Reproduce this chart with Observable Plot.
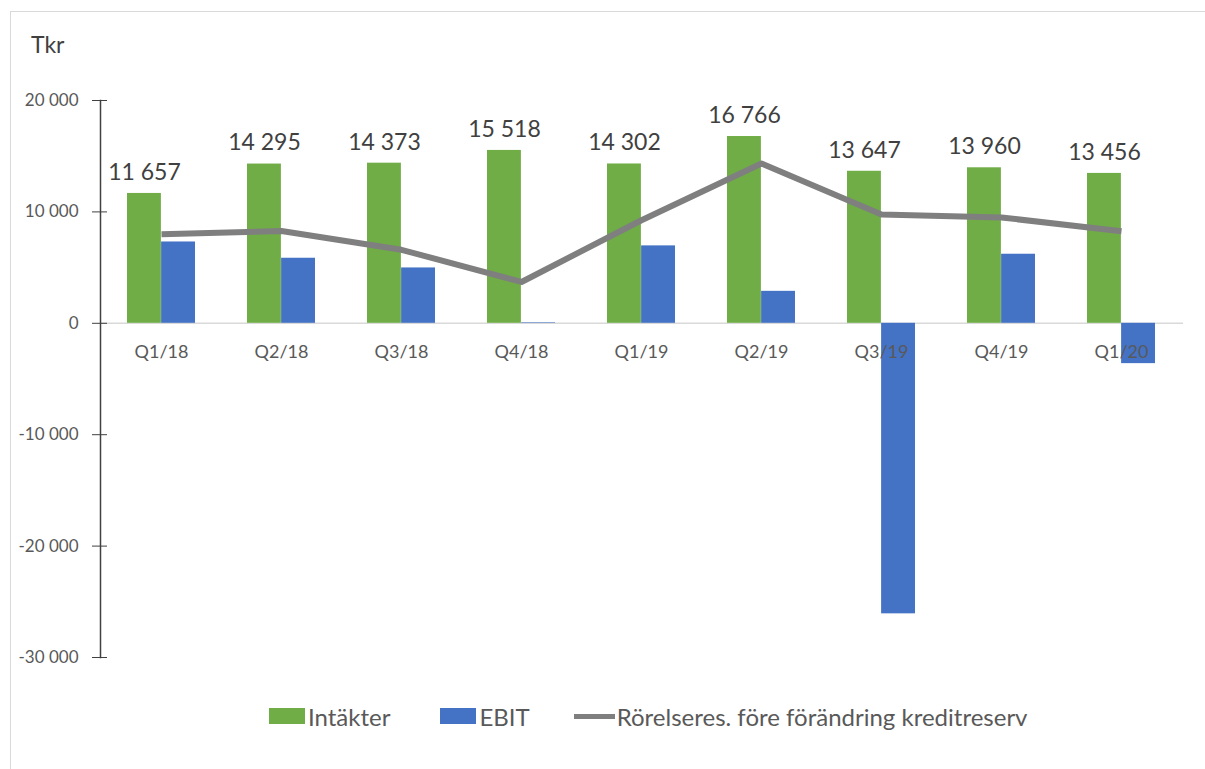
<!DOCTYPE html>
<html>
<head>
<meta charset="utf-8">
<script src="https://cdn.jsdelivr.net/npm/d3@7"></script>
<script src="https://cdn.jsdelivr.net/npm/@observablehq/plot@0.6"></script>
<style>
  html, body { margin: 0; padding: 0; background: #fff; }
  body { width: 1205px; height: 769px; overflow: hidden; position: relative; font-family: Lato, "Noto Sans", sans-serif; }
  #frame { position: absolute; left: 10px; top: 11px; width: 1210px; height: 780px; border: 1px solid #d9d9d9; box-sizing: border-box; }
  #chart { position: absolute; left: 0; top: 0; }
  #tkr { position: absolute; left: 31px; top: 30px; font-size: 23px; color: #404040; }
  #legend { position: absolute; left: 269px; top: 702px; height: 28px; display: flex; align-items: center; font-size: 24px; color: #595959; white-space: nowrap; }
  .sw { width: 36px; height: 16px; margin-right: 3px; }
  .ln { width: 41px; height: 5px; background: #7f7f7f; margin-right: 2px; }
  .item { display: flex; align-items: center; }
</style>
</head>
<body>
<div id="frame"></div>
<div id="chart"></div>
<div id="tkr">Tkr</div>
<div id="legend"></div>
<script>
const quarters = ["Q1/18", "Q2/18", "Q3/18", "Q4/18", "Q1/19", "Q2/19", "Q3/19", "Q4/19", "Q1/20"];
const intakter = [11657, 14295, 14373, 15518, 14302, 16766, 13647, 13960, 13456];
const ebit = [7300, 5840, 4970, 50, 6950, 2870, -26080, 6200, -3620];
const rorelseres = [8000, 8290, 6600, 3710, 9250, 14350, 9770, 9500, 8270];
const yTicks = [-30000, -20000, -10000, 0, 10000, 20000];
const seriesNames = ["Intäkter", "EBIT", "Rörelseres. före förändring kreditreserv"];
const colors = ["#70AD47", "#4472C4", "#7F7F7F"];

const rows = quarters.map((q, i) => ({q, intakter: intakter[i], ebit: ebit[i], ror: rorelseres[i]}));
const locale = d3.formatLocale({decimal: ",", thousands: " ", grouping: [3], currency: ["", " kr"], minus: "-"});
const fmt = locale.format(",d");

const half = 1083 / 9 * 0.567 / 2;
const font = "Lato, 'Noto Sans', sans-serif";

const svg = Plot.plot({
  width: 1205,
  height: 690,
  marginLeft: 100,
  marginRight: 22,
  marginTop: 100,
  marginBottom: 33,
  style: {fontFamily: font, background: "transparent", overflow: "visible"},
  x: {type: "band", domain: quarters, paddingInner: 0.433, paddingOuter: 0.2165, axis: null},
  y: {domain: [-30000, 20000], axis: null},
  marks: [
    Plot.ruleY([0], {stroke: "#d9d9d9", strokeWidth: 1.5}),
    Plot.barY(rows, {x: "q", y: "intakter", fill: colors[0], insetRight: half}),
    Plot.barY(rows, {x: "q", y: "ebit", fill: colors[1], insetLeft: half}),
    Plot.line(rows, {x: "q", y: "ror", stroke: colors[2], strokeWidth: 6, strokeLinecap: "butt", strokeLinejoin: "round"}),
    Plot.text(rows, {x: "q", y: "intakter", text: d => fmt(d.intakter), dx: -half / 2, dy: -21, fontSize: 23, fill: "#404040", lineAnchor: "middle"}),
    Plot.text(quarters, {x: d => d, y: () => 0, dy: 29, fontSize: 18, fill: "#595959", lineAnchor: "middle"}),
    Plot.axisY({ticks: yTicks, tickSize: 15, dx: 7, tickFormat: () => "", stroke: "#404040"}),
    Plot.axisY({ticks: yTicks, tickSize: 0, tickPadding: 22, tickFormat: fmt, fontSize: 17, fill: "#595959"}),
    Plot.frame({anchor: "left", stroke: "#404040", strokeWidth: 1.5})
  ]
});
document.getElementById("chart").appendChild(svg);

const legend = document.getElementById("legend");
seriesNames.forEach((name, i) => {
  const item = document.createElement("div");
  item.className = "item";
  if (i > 0) item.style.marginLeft = i === 1 ? "50px" : "44px";
  const sw = document.createElement("div");
  if (i < 2) { sw.className = "sw"; sw.style.background = colors[i]; }
  else { sw.className = "ln"; }
  const t = document.createElement("span");
  t.textContent = name;
  item.appendChild(sw);
  item.appendChild(t);
  legend.appendChild(item);
});
</script>
</body>
</html>
